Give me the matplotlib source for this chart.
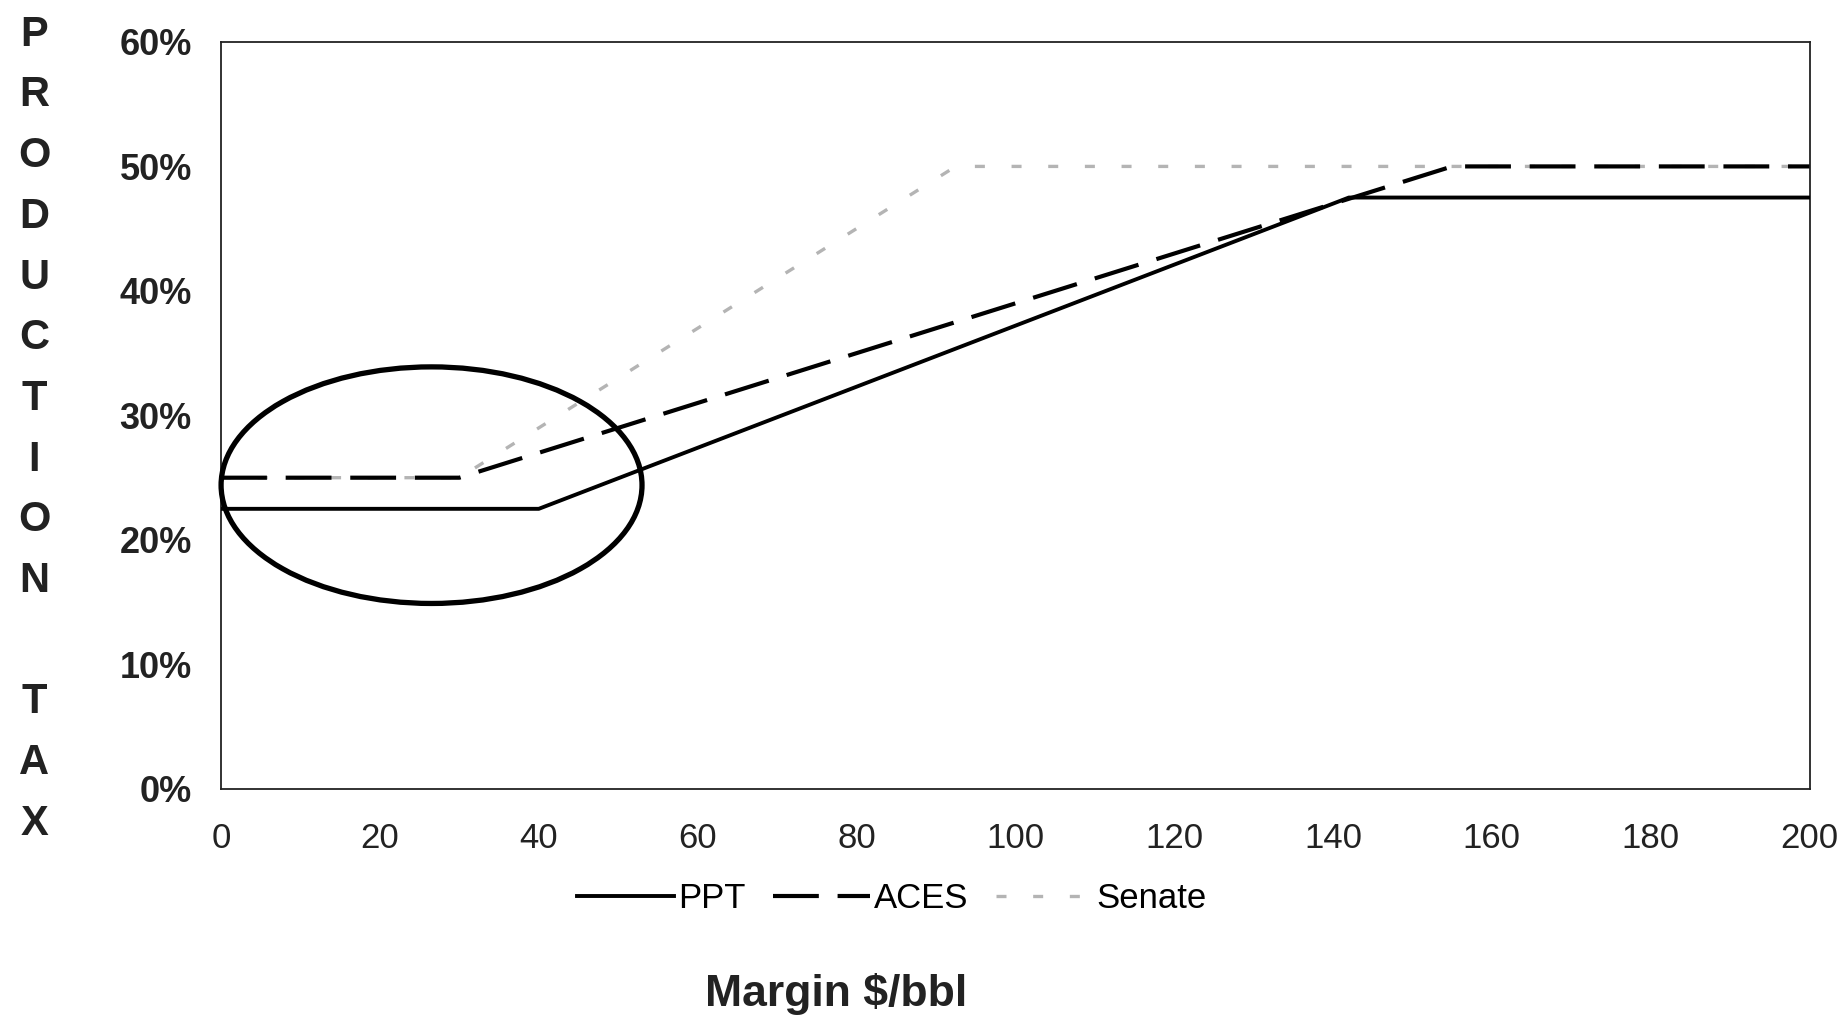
import matplotlib
matplotlib.use("Agg")
import matplotlib.pyplot as plt
from matplotlib.patches import Ellipse
import numpy as np

plt.rcParams['font.family'] = ['Liberation Sans', 'DejaVu Sans']

# margin $/bbl and production tax (%) at the kink points of each regime
ppt_x = [0, 40, 142, 200]
ppt_y = [22.5, 22.5, 47.5, 47.5]
aces_x = [0, 30, 155, 200]
aces_y = [25, 25, 50, 50]
senate_x = [0, 30, 92.5, 200]
senate_y = [25, 25, 50, 50]

x_ticks = [0, 20, 40, 60, 80, 100, 120, 140, 160, 180, 200]
y_ticks = [0, 10, 20, 30, 40, 50, 60]
ylabel_text = "PRODUCTION TAX"

fig = plt.figure(figsize=(18.47, 10.22), dpi=100)
ax = fig.add_axes([0.1197, 0.228, 0.860, 0.731])

ax.plot(ppt_x, ppt_y, color='black', lw=2.8, label='PPT', zorder=4)
aces, = ax.plot(aces_x, aces_y, color='black', lw=3.0, label='ACES', zorder=3)
aces.set_dashes((11, 4.5))
senate, = ax.plot(senate_x, senate_y, color='#b4b4b4', lw=2.4, label='Senate', zorder=2)
senate.set_dashes((3, 8))

# highlight circle around the low-margin region
ax.add_patch(Ellipse((26.5, 24.4), 53, 19, fill=False, ec='black', lw=3.8,
                     clip_on=False, zorder=5))

ax.set_xlim(0, 200)
ax.set_ylim(0, 60)
ax.set_xticks(x_ticks)
ax.set_xticklabels([str(v) for v in x_ticks])
ax.set_yticks(y_ticks)
ax.set_yticklabels(['%d%%' % v for v in y_ticks], fontweight='bold')
ax.tick_params(axis='x', length=0, pad=24, labelsize=25, labelcolor='#222222')
ax.tick_params(axis='y', length=0, pad=21, labelsize=26, labelcolor='#222222')
for sp in ax.spines.values():
    sp.set_linewidth(1.3)
    sp.set_color('#222222')

# stacked vertical y label, one letter per line
y0 = 0.966
step = 60.7 / 1022
for i, ch in enumerate(ylabel_text):
    if ch == ' ':
        continue
    fig.text(0.0185, y0 - i * step, ch, ha='center', va='center',
             fontsize=30, fontweight='bold', color='#222222')

fig.legend(loc='center', bbox_to_anchor=(0.483, 0.121), ncol=3, frameon=False,
           fontsize=25, handlelength=2.8, handletextpad=0.1, columnspacing=0.8)

fig.text(0.4525, 0.027, 'Margin $/bbl', ha='center', va='center',
         fontsize=32, fontweight='bold', color='#222222')

fig.savefig('out.png', dpi=100, facecolor='white')
